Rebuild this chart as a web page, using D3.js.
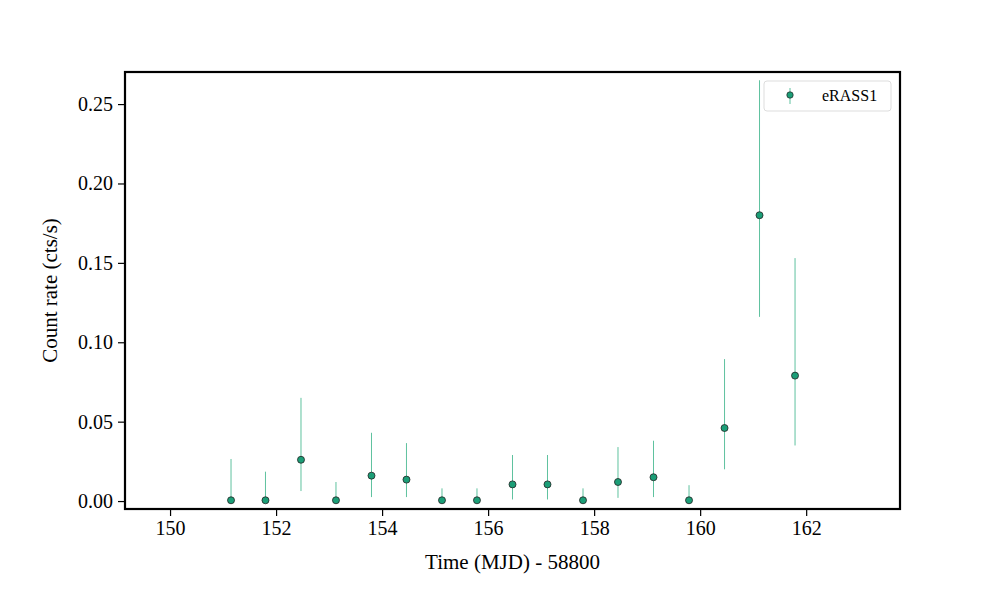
<!DOCTYPE html><html><head><meta charset="utf-8"><script src="https://cdn.jsdelivr.net/npm/d3@7"></script>
<style>body{margin:0;background:#fff}text{font-family:"Liberation Serif","DejaVu Serif",serif}</style></head><body>
<svg id="c" width="1000" height="600"></svg>
<script>
const times=[151.15,151.8,152.47,153.13,153.8,154.46,155.13,155.79,156.46,157.12,157.79,158.45,159.12,159.79,160.46,161.12,161.79];
const rates=[0.0005,0.0005,0.026,0.0005,0.016,0.0135,0.0005,0.0005,0.0105,0.0105,0.0005,0.012,0.015,0.0005,0.046,0.18,0.079];
const errHi=[0.0265,0.0185,0.065,0.012,0.043,0.0365,0.008,0.008,0.029,0.029,0.008,0.034,0.038,0.010,0.0894,0.265,0.153];
const errLo=[0,0,0.0063,0,0.0025,0.0025,0,0,0.001,0.001,0,0.002,0.0025,0,0.02,0.116,0.035];
const xTicks=[150,152,154,156,158,160,162];
const yTicks=[0,0.05,0.10,0.15,0.20,0.25];
const L=125,R=900,T=72,B=509;
const svg=d3.select("#c");
const x=d3.scaleLinear().domain([149.15,163.77]).range([L,R]);
const y=d3.scaleLinear().domain([-0.005,0.2702]).range([B,T]);
const gx=svg.append("g").attr("transform",`translate(0,${B})`).call(d3.axisBottom(x).tickValues(xTicks).tickFormat(d3.format("d")).tickSize(7).tickPadding(5));
const gy=svg.append("g").attr("transform",`translate(${L},0)`).call(d3.axisLeft(y).tickValues(yTicks).tickFormat(d3.format(".2f")).tickSize(7).tickPadding(5));
[gx,gy].forEach(g=>{g.select(".domain").remove();g.selectAll("text").attr("font-size",20).attr("fill","#000");g.selectAll("line").attr("stroke","#000").attr("stroke-width",1.2);});
svg.append("rect").attr("x",L).attr("y",T).attr("width",R-L).attr("height",B-T).attr("fill","none").attr("stroke","#000").attr("stroke-width",2.2);
svg.append("g").selectAll("line").data(times).join("line").attr("x1",d=>x(d)).attr("x2",d=>x(d))
 .attr("y1",(d,i)=>y(errLo[i])).attr("y2",(d,i)=>y(errHi[i])).attr("stroke","#5fc29f").attr("stroke-width",1);
svg.append("g").selectAll("circle").data(times).join("circle").attr("cx",d=>x(d)).attr("cy",(d,i)=>y(rates[i])).attr("r",3.5)
 .attr("fill","#1b9e77").attr("stroke","#222").attr("stroke-width",0.8);
svg.append("text").attr("x",(L+R)/2).attr("y",569).attr("text-anchor","middle").attr("font-size",21).text("Time (MJD) - 58800");
svg.append("text").attr("transform",`translate(57,${(T+B)/2}) rotate(-90)`).attr("text-anchor","middle").attr("font-size",21).text("Count rate (cts/s)");
const lg=svg.append("g");
lg.append("rect").attr("x",764).attr("y",81).attr("width",127).attr("height",30).attr("rx",3).attr("fill","#fff").attr("stroke","#ddd");
lg.append("line").attr("x1",790).attr("x2",790).attr("y1",88).attr("y2",104).attr("stroke","#5fc29f");
lg.append("circle").attr("cx",790).attr("cy",95).attr("r",3.2).attr("fill","#1b9e77").attr("stroke","#222").attr("stroke-width",0.7);
lg.append("text").attr("x",822).attr("y",101).attr("font-size",16).text("eRASS1");
</script></body></html>
